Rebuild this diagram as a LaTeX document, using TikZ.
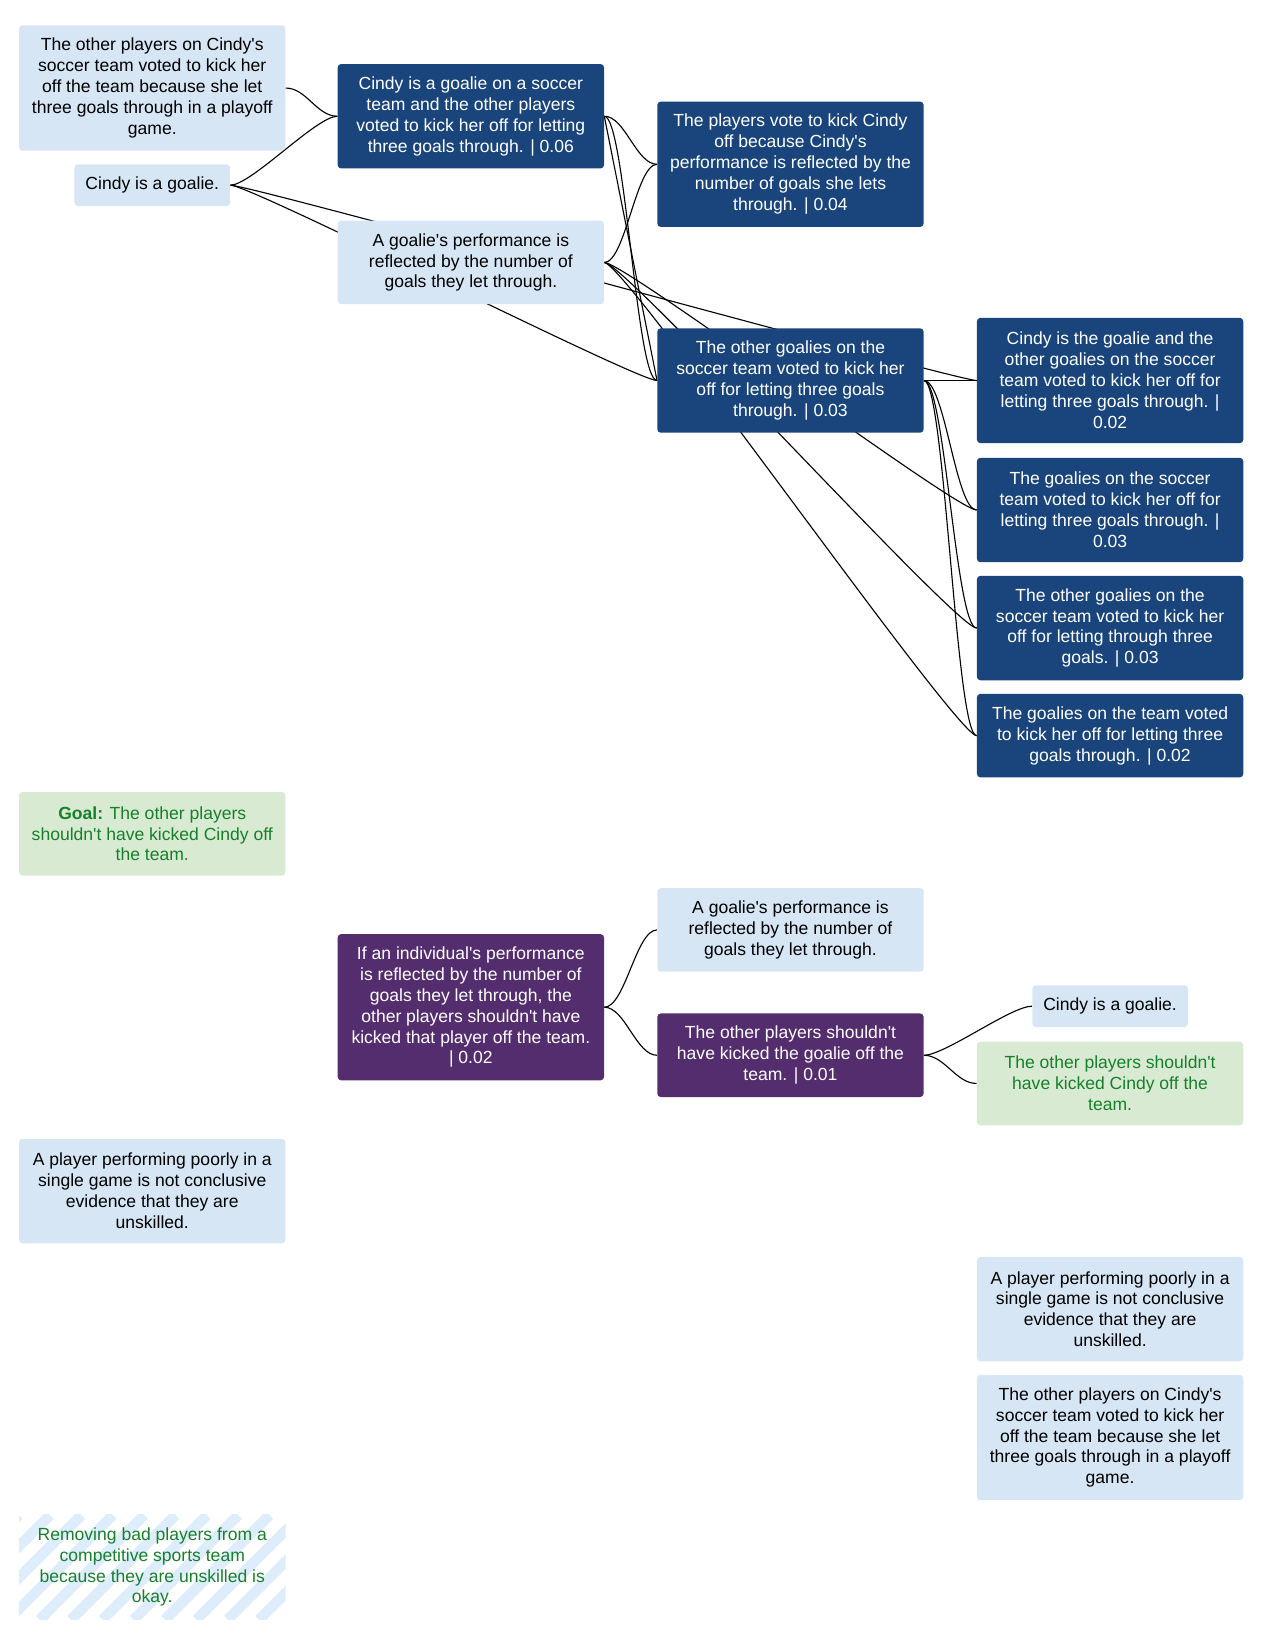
\documentclass[tikz,border=0pt]{standalone}
\usepackage{fontspec}
\setmainfont{Liberation Sans}[Ligatures=TeXOff]
\usetikzlibrary{calc,backgrounds}

\definecolor{lightfill}{RGB}{214,230,245}
\definecolor{darkfill}{RGB}{25,69,124}
\definecolor{purplefill}{RGB}{84,45,110}
\definecolor{greenfill}{RGB}{217,234,211}
\definecolor{greentext}{RGB}{22,128,42}
\definecolor{stripefill}{RGB}{222,237,252}

\tikzset{
  box/.style={anchor=north west,rounded corners=2.5pt,align=center,inner sep=0pt,
    minimum width=191.25pt,font=\fontsize{12.6}{15}\selectfont},
  lightnode/.style={box,fill=lightfill,text=black},
  darknode/.style={box,fill=darkfill,text=white},
  purplenode/.style={box,fill=purplefill,text=white},
  greennode/.style={box,fill=greenfill,text=greentext},
  lines1/.style={minimum height=30pt},
  lines3/.style={minimum height=60pt},
  lines4/.style={minimum height=75pt},
  lines5/.style={minimum height=90pt},
  lines6/.style={minimum height=105pt},
  edge/.style={line width=0.8pt,black},
  sline/.style={to path={let \p1=(\tikztostart), \p2=(\tikztotarget) in
    .. controls ({\x1+15pt},\y1) and ({\x2-15pt},\y2) .. (\tikztotarget)}}
}

\begin{document}
\begin{tikzpicture}[x=0.75pt,y=-0.75pt]
      \useasboundingbox (0,0) rectangle (1210,1572);

      % first tree
      \node[lightnode,lines5] (1) at (18,24) {The other players on Cindy's\\soccer team voted to kick her\\off the team because she let\\three goals through in a playoff\\game.};
      \node[lightnode,lines1,minimum width=111.75pt] (2) at (71,157) {Cindy is a goalie.};
      \node[darknode,lines4] (3) at (323,61) {Cindy is a goalie on a soccer\\team and the other players\\voted to kick her off for letting\\three goals through. | 0.06};
      \node[lightnode,lines3] (4) at (323,211) {A goalie's performance is\\reflected by the number of\\goals they let through.};
      \node[darknode,lines5] (5) at (629,97) {The players vote to kick Cindy\\off because Cindy's\\performance is reflected by the\\number of goals she lets\\through. | 0.04};
      \node[darknode,lines4] (6) at (629,314) {The other goalies on the\\soccer team voted to kick her\\off for letting three goals\\through. | 0.03};
      \node[darknode,lines5] (7) at (935,304) {Cindy is the goalie and the\\other goalies on the soccer\\team voted to kick her off for\\letting three goals through. |\\0.02};
      \node[darknode,lines4] (8) at (935,438) {The goalies on the soccer\\team voted to kick her off for\\letting three goals through. |\\0.03};
      \node[darknode,lines4] (9) at (935,551) {The other goalies on the\\soccer team voted to kick her\\off for letting through three\\goals. | 0.03};
      \node[darknode,lines3] (10) at (935,664) {The goalies on the team voted\\to kick her off for letting three\\goals through. | 0.02};

      % goal and second tree
      \node[greennode,lines3] (11) at (18,758) {\textbf{Goal:} The other players\\shouldn't have kicked Cindy off\\the team.};
      \node[purplenode,lines6] (12) at (323,894) {If an individual's performance\\is reflected by the number of\\goals they let through, the\\other players shouldn't have\\kicked that player off the team.\\| 0.02};
      \node[lightnode,lines3] (13) at (629,850) {A goalie's performance is\\reflected by the number of\\goals they let through.};
      \node[purplenode,lines3] (14) at (629,970) {The other players shouldn't\\have kicked the goalie off the\\team. | 0.01};
      \node[lightnode,lines1,minimum width=111.75pt] (15) at (988,943) {Cindy is a goalie.};
      \node[greennode,lines3] (16) at (935,997) {The other players shouldn't\\have kicked Cindy off the\\team.};

      % loose statements
      \node[lightnode,lines4] (17) at (18,1090) {A player performing poorly in a\\single game is not conclusive\\evidence that they are\\unskilled.};
      \node[lightnode,lines4] (18) at (935,1203) {A player performing poorly in a\\single game is not conclusive\\evidence that they are\\unskilled.};
      \node[lightnode,lines5] (19) at (935,1316) {The other players on Cindy's\\soccer team voted to kick her\\off the team because she let\\three goals through in a playoff\\game.};
      \node[box,lines4,text=greentext] (20) at (18,1450) {Removing bad players from a\\competitive sports team\\because they are unskilled is\\okay.};

      \begin{scope}[on background layer]
        % stripes of the last box
        \begin{scope}
          \clip (20.north west) rectangle (20.south east);
          \foreach \i in {0,30,...,420}
            \draw[stripefill,line width=7.5pt] ($(20.south west)+(\i-100,0)$) -- ++(100,-100);
        \end{scope}

        \draw[edge] (1.east) to[sline] (3.west);
        \draw[edge] (2.east) to[sline] (3.west);
        \draw[edge] (2.east) to[sline] (6.west);
        \draw[edge] (2.east) to[sline] (7.west);
        \draw[edge] (3.east) to[sline] (5.west);
        \draw[edge] (4.east) to[sline] (5.west);
        \draw[edge] (3.east) to[sline] (6.west);
        \draw[edge] (3.east) -- (6.west);
        \draw[edge] (4.east) to[sline] (8.west);
        \draw[edge] (4.east) to[sline] (9.west);
        \draw[edge] (4.east) to[sline] (10.west);
        \foreach \t in {7,8,9,10}
          \draw[edge] (6.east) to[sline] (\t.west);

        \draw[edge] (12.east) to[sline] (13.west);
        \draw[edge] (12.east) to[sline] (14.west);
        \draw[edge] (14.east) to[sline] (15.west);
        \draw[edge] (14.east) to[sline] (16.west);
      \end{scope}
    \end{tikzpicture}
\end{document}
